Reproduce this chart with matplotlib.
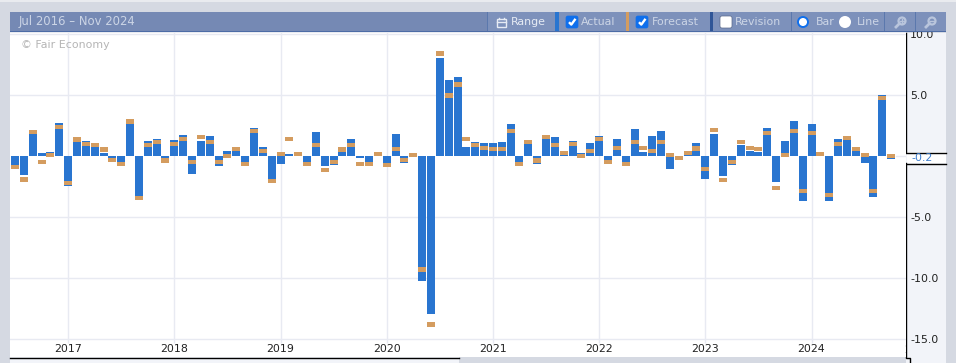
"""Actual vs forecast monthly bars, Jul 2016 - Oct 2024, with the calendar toolbar on top."""

import numpy as np
import matplotlib
matplotlib.use("Agg")
import matplotlib.pyplot as plt
from matplotlib.patches import Rectangle, FancyBboxPatch, Circle

actual_values = [
    -0.7, -1.5, 1.8, 0.3, 0.4, 2.7, -2.4, 1.25, 1.25, 0.8, 0.3, -0.15, -0.45, 3.05, -3.55, 1.25,
    1.4, -0.15, 1.35, 1.75, -1.45, 1.25, 1.65, -0.8, 0.45, 0.45, -0.45, 2.3, 0.8, -1.85, -0.6, 0.2,
    0.1, -0.45, 2.0, -0.8, -0.7, 0.4, 1.4, -0.15, -0.45, 0.1, -0.55, 1.85, -0.55, 0.0, -10.25, -12.95,
    8.05, 6.25, 6.5, 0.78, 1.18, 1.1, 1.1, 1.2, 2.65, -0.45, 1.0, -0.6, 1.45, 1.6, 0.15, 1.25,
    0.3, 1.1, 1.65, -0.3, 1.4, -0.45, 2.25, 0.4, 1.65, 2.1, -1.0, 0.0, 0.15, 1.1, -1.84, 1.85,
    -1.6, -0.7, 0.95, 0.45, 0.4, 2.3, -2.1, 1.25, 2.9, -3.65, 2.65, 0.1, -3.65, 1.4, 1.35, 0.45,
    -0.5, -3.3, 5.0, -0.2,
]
forecast_values = [
    -0.86, -1.9, 2.0, -0.45, 0.1, 2.4, -2.2, 1.4, 1.0, 0.95, 0.55, -0.3, -0.6, 2.85, -3.4, 0.95,
    1.2, -0.35, 1.0, 1.45, -0.45, 1.6, 1.2, -0.45, 0.05, 0.6, -0.6, 2.1, 0.45, -2.0, 0.2, 1.45,
    0.2, -0.6, 0.95, -1.1, -0.45, 0.55, 0.95, -0.6, -0.6, 0.2, -0.7, 0.6, -0.3, 0.1, -9.27, -13.77,
    8.45, 5.0, 5.9, 1.43, 0.94, 0.69, 0.6, 0.6, 2.1, -0.6, 1.2, -0.35, 1.6, 0.95, 0.3, 1.0,
    0.05, 0.45, 1.45, -0.45, 0.7, -0.6, 1.2, 0.7, 0.45, 1.2, 0.1, -0.12, 0.3, 0.65, -1.02, 2.15,
    -1.92, -0.45, 1.2, 0.7, 0.6, 1.9, -2.57, 0.1, 2.1, -2.82, 1.9, 0.2, -3.15, 1.0, 1.5, 0.6,
    0.1, -2.82, 4.8, 0.05,
]
year_labels = ["2017", "2018", "2019", "2020", "2021", "2022", "2023", "2024"]
year_positions = [6, 18, 30, 42, 54, 66, 78, 90]
y_tick_values = [10, 5, 0, -5, -10, -15]
y_tick_labels = ["10.0", "5.0", "", "-5.0", "-10.0", "-15.0"]

actual_color = "#2975d0"
forecast_color = "#d49c5f"
grid_color = "#e8eaf2"
panel_color = "#f2f4f9"
header_color = "#7589b4"
button_color = "#7d91bb"
header_text_color = "#ccd5e6"
page_color = "#d5d9e2"
text_size = 7.9

width_px, height_px = 956, 363
plot_left, plot_right, plot_top, plot_bottom = 10, 906, 33, 357
px_per_month = 8.85
first_bar_px = 15.0
px_per_unit = 12.2
zero_px = 156.4

figure = plt.figure(figsize=(width_px / 100, height_px / 100), dpi=100, facecolor=page_color)

# page furniture below the plot: the y axis panel and the strip under the x axis
under = figure.add_axes([0, 0, 1, 1], zorder=0)
under.set_xlim(0, width_px)
under.set_ylim(height_px, 0)
under.axis("off")
under.add_patch(Rectangle((0, 0), width_px, 2, color="#e9ebef", lw=0))
under.add_patch(Rectangle((plot_right, 33), 40, 330, color=panel_color, lw=0))
under.add_patch(Rectangle((plot_left, plot_bottom), 449, 6, color=panel_color, lw=0))
under.plot([plot_left, 459], [357.5, 357.5], color="black", lw=1)
under.plot([906.5, 906.5], [33, 152], color="black", lw=1)
under.plot([906.5, 906.5, 910.5, 910.5], [163, 357.5, 357.5, 363], color="black", lw=1)
under.add_patch(Rectangle((907, 152), 39, 11, color="white", lw=0))
under.plot([906, 946], [152.5, 152.5], color="black", lw=1)
under.plot([906, 946], [163.5, 163.5], color="black", lw=1)

axis = figure.add_axes([
    plot_left / width_px,
    1 - plot_bottom / height_px,
    (plot_right - plot_left) / width_px,
    (plot_bottom - plot_top) / height_px,
], zorder=2)
axis.set_xlim((plot_left - first_bar_px) / px_per_month, (plot_right - first_bar_px) / px_per_month)
axis.set_ylim((zero_px - plot_bottom) / px_per_unit, (zero_px - plot_top) / px_per_unit)
for spine in axis.spines.values():
    spine.set_visible(False)

month_index = np.arange(len(actual_values))
bar_width = 8 / px_per_month
band_height = 4.4 / px_per_unit
actual_array = np.array(actual_values)
forecast_array = np.array(forecast_values)

axis.bar(month_index, actual_array, width=bar_width, color=actual_color, zorder=3, linewidth=0)
axis.bar(month_index, band_height, bottom=forecast_array - band_height / 2, width=bar_width,
         color=forecast_color, zorder=4, linewidth=0)

grid_floor = (zero_px - 343) / px_per_unit
axis.vlines(year_positions, grid_floor, 11, color=grid_color, linewidth=1, zorder=1)
for value in y_tick_values:
    if value != 0:
        axis.axhline(value, color=grid_color, linewidth=1, zorder=1)
axis.plot([99.6, 101], [0, 0], color=grid_color, linewidth=1, zorder=1)

axis.set_xticks(year_positions)
axis.set_xticklabels(year_labels, fontsize=text_size, color="#222222")
axis.tick_params(axis="x", length=0, pad=-9)
axis.yaxis.tick_right()
axis.set_yticks(y_tick_values)
axis.set_yticklabels(y_tick_labels, fontsize=text_size, color="#222222")
axis.tick_params(axis="y", length=0, pad=3)

# next year's label is cut off by the axis edge
axis.text(102, (zero_px - 350) / px_per_unit, "2025", fontsize=text_size, color="#222222",
          ha="center", va="center", clip_on=True)
axis.text(21, 45, "\u00a9 Fair Economy", transform=under.transData, fontsize=text_size,
          color="#b5b5b5", ha="left", va="center", zorder=2)
axis.text(922, 158, "-0.2", transform=under.transData, fontsize=text_size, color="#3f7fcf",
          ha="center", va="center", clip_on=False)

# toolbar
top = figure.add_axes([0, 0, 1, 1], zorder=3)
top.set_xlim(0, width_px)
top.set_ylim(height_px, 0)
top.axis("off")
top.patch.set_alpha(0)
top.add_patch(Rectangle((10, 12), 936, 20, color=header_color, lw=0))
top.add_patch(Rectangle((487, 12), 459, 20, color=button_color, lw=0))
top.add_patch(Rectangle((10, 31), 936, 1, color="#4d6ca6", lw=0))
top.add_patch(Rectangle((10, 32), 896, 1.2, color="#e9ebf1", lw=0))
top.add_patch(Rectangle((555, 12), 4, 19, color=actual_color, lw=0))
top.add_patch(Rectangle((626, 12), 3, 19, color=forecast_color, lw=0))
top.add_patch(Rectangle((710, 12), 3, 19, color="#2f5597", lw=0))
for separator_x in [487, 791, 884, 915]:
    top.add_patch(Rectangle((separator_x, 12), 1, 19, color="#5b78ad", lw=0))


def header_text(x_position, label, color=header_text_color, size=text_size):
    top.text(x_position, 22, label, fontsize=size, color=color, ha="left", va="center")


def checkbox(x_position, checked):
    fill = "#0f6fec" if checked else "white"
    top.add_patch(FancyBboxPatch((x_position + 1, 17), 10, 10, boxstyle="round,pad=1,rounding_size=2",
                                 facecolor=fill, edgecolor="#59688a" if not checked else fill, lw=0.5))
    if checked:
        top.plot([x_position + 3, x_position + 5.3, x_position + 9.5], [22.2, 24.6, 18.8],
                 color="white", lw=1.7, solid_capstyle="butt")


header_text(19, "Jul 2016 \u2013 Nov 2024", size=8.4)
header_text(511, "Range", color="#e6ebf4")
header_text(581, "Actual")
header_text(652, "Forecast")
header_text(735, "Revision")
header_text(816, "Bar")
header_text(857, "Line")
checkbox(566, True)
checkbox(636, True)
checkbox(720, False)

# calendar icon of the Range button
top.add_patch(Rectangle((497, 19), 9.5, 7.5, facecolor="none", edgecolor="#e6ebf4", lw=1))
top.plot([497, 506.5], [22, 22], color="#e6ebf4", lw=1)
top.plot([499.5, 499.5], [17.5, 19], color="#e6ebf4", lw=1)
top.plot([504, 504], [17.5, 19], color="#e6ebf4", lw=1)

# Bar / Line radio buttons
top.add_patch(Circle((803, 22), 5, facecolor="white", edgecolor="#0f6fec", lw=1.4))
top.add_patch(Circle((845, 22), 6, facecolor="white", edgecolor="white", lw=0))

# zoom in / zoom out icons
for icon_x in [901, 931]:
    top.add_patch(Circle((icon_x + 1, 21), 3.5, facecolor="none", edgecolor="#b9c5dc", lw=1.6))
    top.plot([icon_x - 1.5, icon_x - 5], [23.5, 27], color="#b9c5dc", lw=2)
    top.plot([icon_x - 0.8, icon_x + 2.8], [21, 21], color="#b9c5dc", lw=1)
top.plot([902, 902], [19.2, 22.8], color="#b9c5dc", lw=1)

figure.savefig("out.png", dpi=100, facecolor=page_color)
plt.close(figure)
